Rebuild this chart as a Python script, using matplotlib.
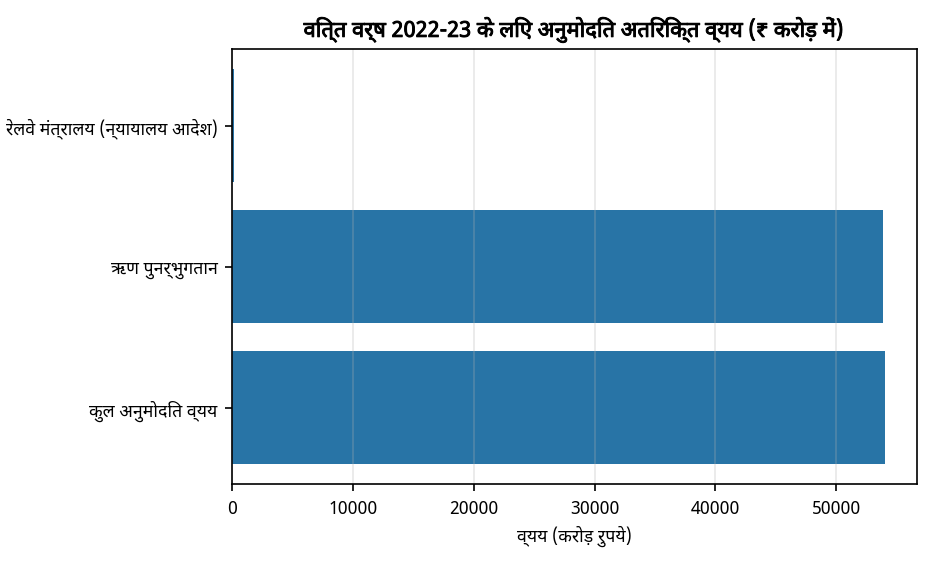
import matplotlib
matplotlib.use("Agg")
import matplotlib.pyplot as plt
import matplotlib.patheffects as pe

plt.rcParams['font.family'] = ['Noto Sans Devanagari', 'Noto Sans', 'DejaVu Sans']

categories = ["कुल अनुमोदित व्यय", "ऋण पुनर्भुगतान", "रेलवे मंत्रालय (न्यायालय आदेश)"]
values = [54000, 53830, 130]
title = "वित्त वर्ष 2022-23 के लिए अनुमोदित अतिरिक्त व्यय (₹ करोड़ में)"
xlabel = "व्यय (करोड़ रुपये)"

fig, ax = plt.subplots(figsize=(6.24, 3.8133), dpi=150)
fig.subplots_adjust(left=0.248, right=0.980, top=0.912, bottom=0.152)
ax.barh(categories, values, color="#2874a6", height=0.8)
ax.grid(axis='x', alpha=0.3)
t = ax.set_title(title, fontsize=10.5, fontweight='bold')
t.set_path_effects([pe.withStroke(linewidth=0.45, foreground='black')])
ax.set_xlabel(xlabel, fontsize=8.5)
ax.tick_params(labelsize=8.5)
fig.savefig("out.png", dpi=150)
